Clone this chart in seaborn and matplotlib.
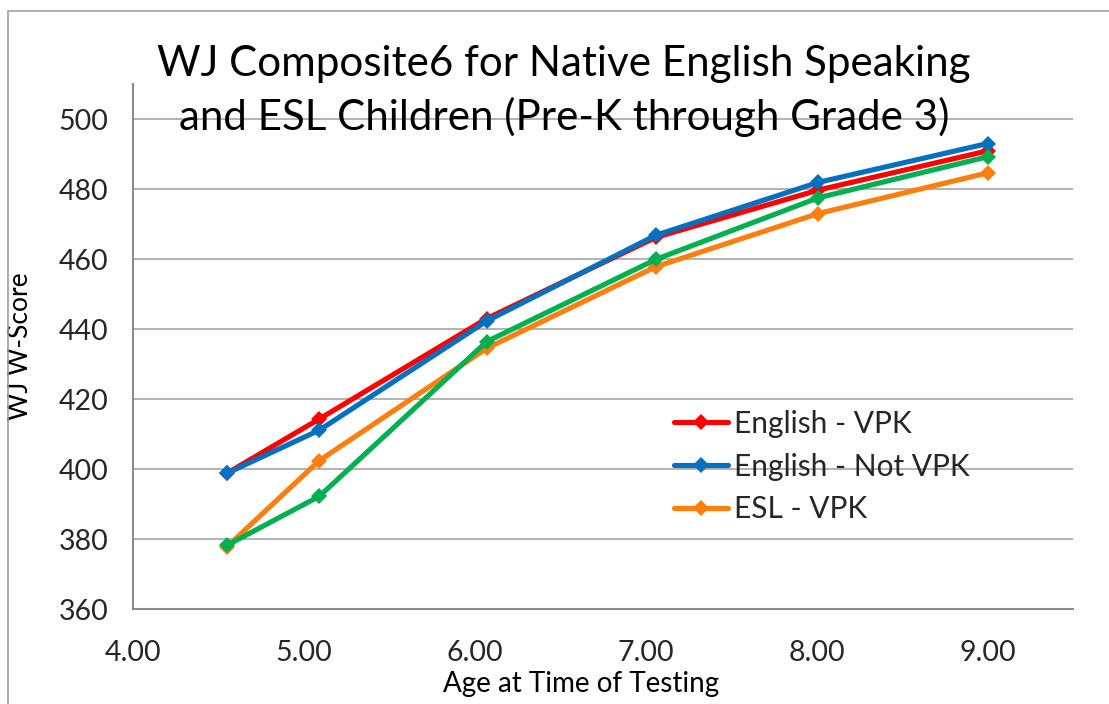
import matplotlib
matplotlib.use("Agg")
import matplotlib.pyplot as plt
import seaborn as sns
import pandas as pd
from matplotlib.lines import Line2D

# ---- data ----
ages = [4.55, 5.09, 6.07, 7.06, 8.01, 9.00]
english_vpk = [398.8, 414.3, 443.0, 466.2, 479.7, 490.9]
english_not_vpk = [398.8, 411.1, 442.3, 466.8, 481.9, 493.0]
esl_vpk = [377.8, 402.4, 434.5, 457.8, 473.0, 484.6]
esl_not_vpk = [378.2, 392.2, 436.4, 459.9, 477.5, 489.2]

series_names = ["English - VPK", "English - Not VPK", "ESL - VPK", "ESL - Not VPK"]
series_values = [english_vpk, english_not_vpk, esl_vpk, esl_not_vpk]
series_colors = ["#FF0000", "#0070C0", "#FF7F0E", "#00B050"]
legend_names = ["English - VPK", "English - Not VPK", "ESL - VPK"]

x_ticks = [4, 5, 6, 7, 8, 9]
y_ticks = [360, 380, 400, 420, 440, 460, 480, 500]

title_text = "WJ Composite6 for Native English Speaking\nand ESL Children (Pre-K through Grade 3)"
x_label = "Age at Time of Testing"
y_label = "WJ W-Score"

rows = []
for name, vals in zip(series_names, series_values):
    for a, v in zip(ages, vals):
        rows.append({"age": a, "score": v, "series": name})
df = pd.DataFrame(rows)

sns.set_theme(style="white")
plt.rcParams["font.family"] = ["Lato", "DejaVu Sans"]

fig = plt.figure(figsize=(11.09, 7.04), dpi=100)
ax = fig.add_axes([133 / 1109, 1 - 609 / 704, (1073 - 133) / 1109, (609 - 84) / 704])

palette = dict(zip(series_names, series_colors))
for name in series_names:
    sub = df[df["series"] == name]
    sns.lineplot(data=sub, x="age", y="score", color=palette[name], lw=3.7,
                 marker="D", markersize=8, markeredgewidth=0, ax=ax,
                 label=name if name in legend_names else None, zorder=3)

ax.set_xlim(4, 9.5)
ax.set_ylim(360, 510)
ax.set_xticks(x_ticks)
ax.set_xticklabels([f"{t:.2f}" for t in x_ticks])
ax.set_yticks(y_ticks)
ax.set_yticklabels([str(t) for t in y_ticks])
ax.grid(axis="y", color="#A6A6A6", lw=1.2)
ax.grid(axis="x", visible=False)
ax.set_axisbelow(True)
for s in ["top", "right"]:
    ax.spines[s].set_visible(False)
for s in ["left", "bottom"]:
    ax.spines[s].set_color("#8C8C8C")
    ax.spines[s].set_linewidth(1.5)
ax.tick_params(axis="both", which="both", direction="out", length=9, width=1.2,
               color="#8C8C8C", labelsize=20.5, labelcolor="#262626", pad=9)
ax.tick_params(axis="x", pad=13)

ax.set_xlabel(x_label, fontsize=20, color="black")
ax.set_ylabel(y_label, fontsize=19, color="black")
ax.xaxis.set_label_coords((581 - 133) / 940, -0.118)
ax.yaxis.set_label_coords(-(133 - 33) / 940, 0.5)

fig.text(564 / 1109, 1 - 91 / 704, title_text, ha="center", va="center",
         fontsize=30.3, color="black", linespacing=1.4)

handles, labels = ax.get_legend_handles_labels()
ax.legend(handles, labels, loc="upper left", bbox_to_anchor=((662 - 133) / 940, 1 - (398 - 84) / 525),
          frameon=False, fontsize=21.5, handlelength=1.8, handletextpad=0.2,
          labelspacing=0.49, borderaxespad=0)

# outer chart frame
fig.add_artist(Line2D([8 / 1109, 8 / 1109], [0, 1 - 11 / 704], color="#A0A0A0", lw=1.2,
                      transform=fig.transFigure))
fig.add_artist(Line2D([8 / 1109, 1], [1 - 11 / 704, 1 - 11 / 704], color="#A0A0A0", lw=1.2,
                      transform=fig.transFigure))

fig.savefig("out.png", dpi=100)
